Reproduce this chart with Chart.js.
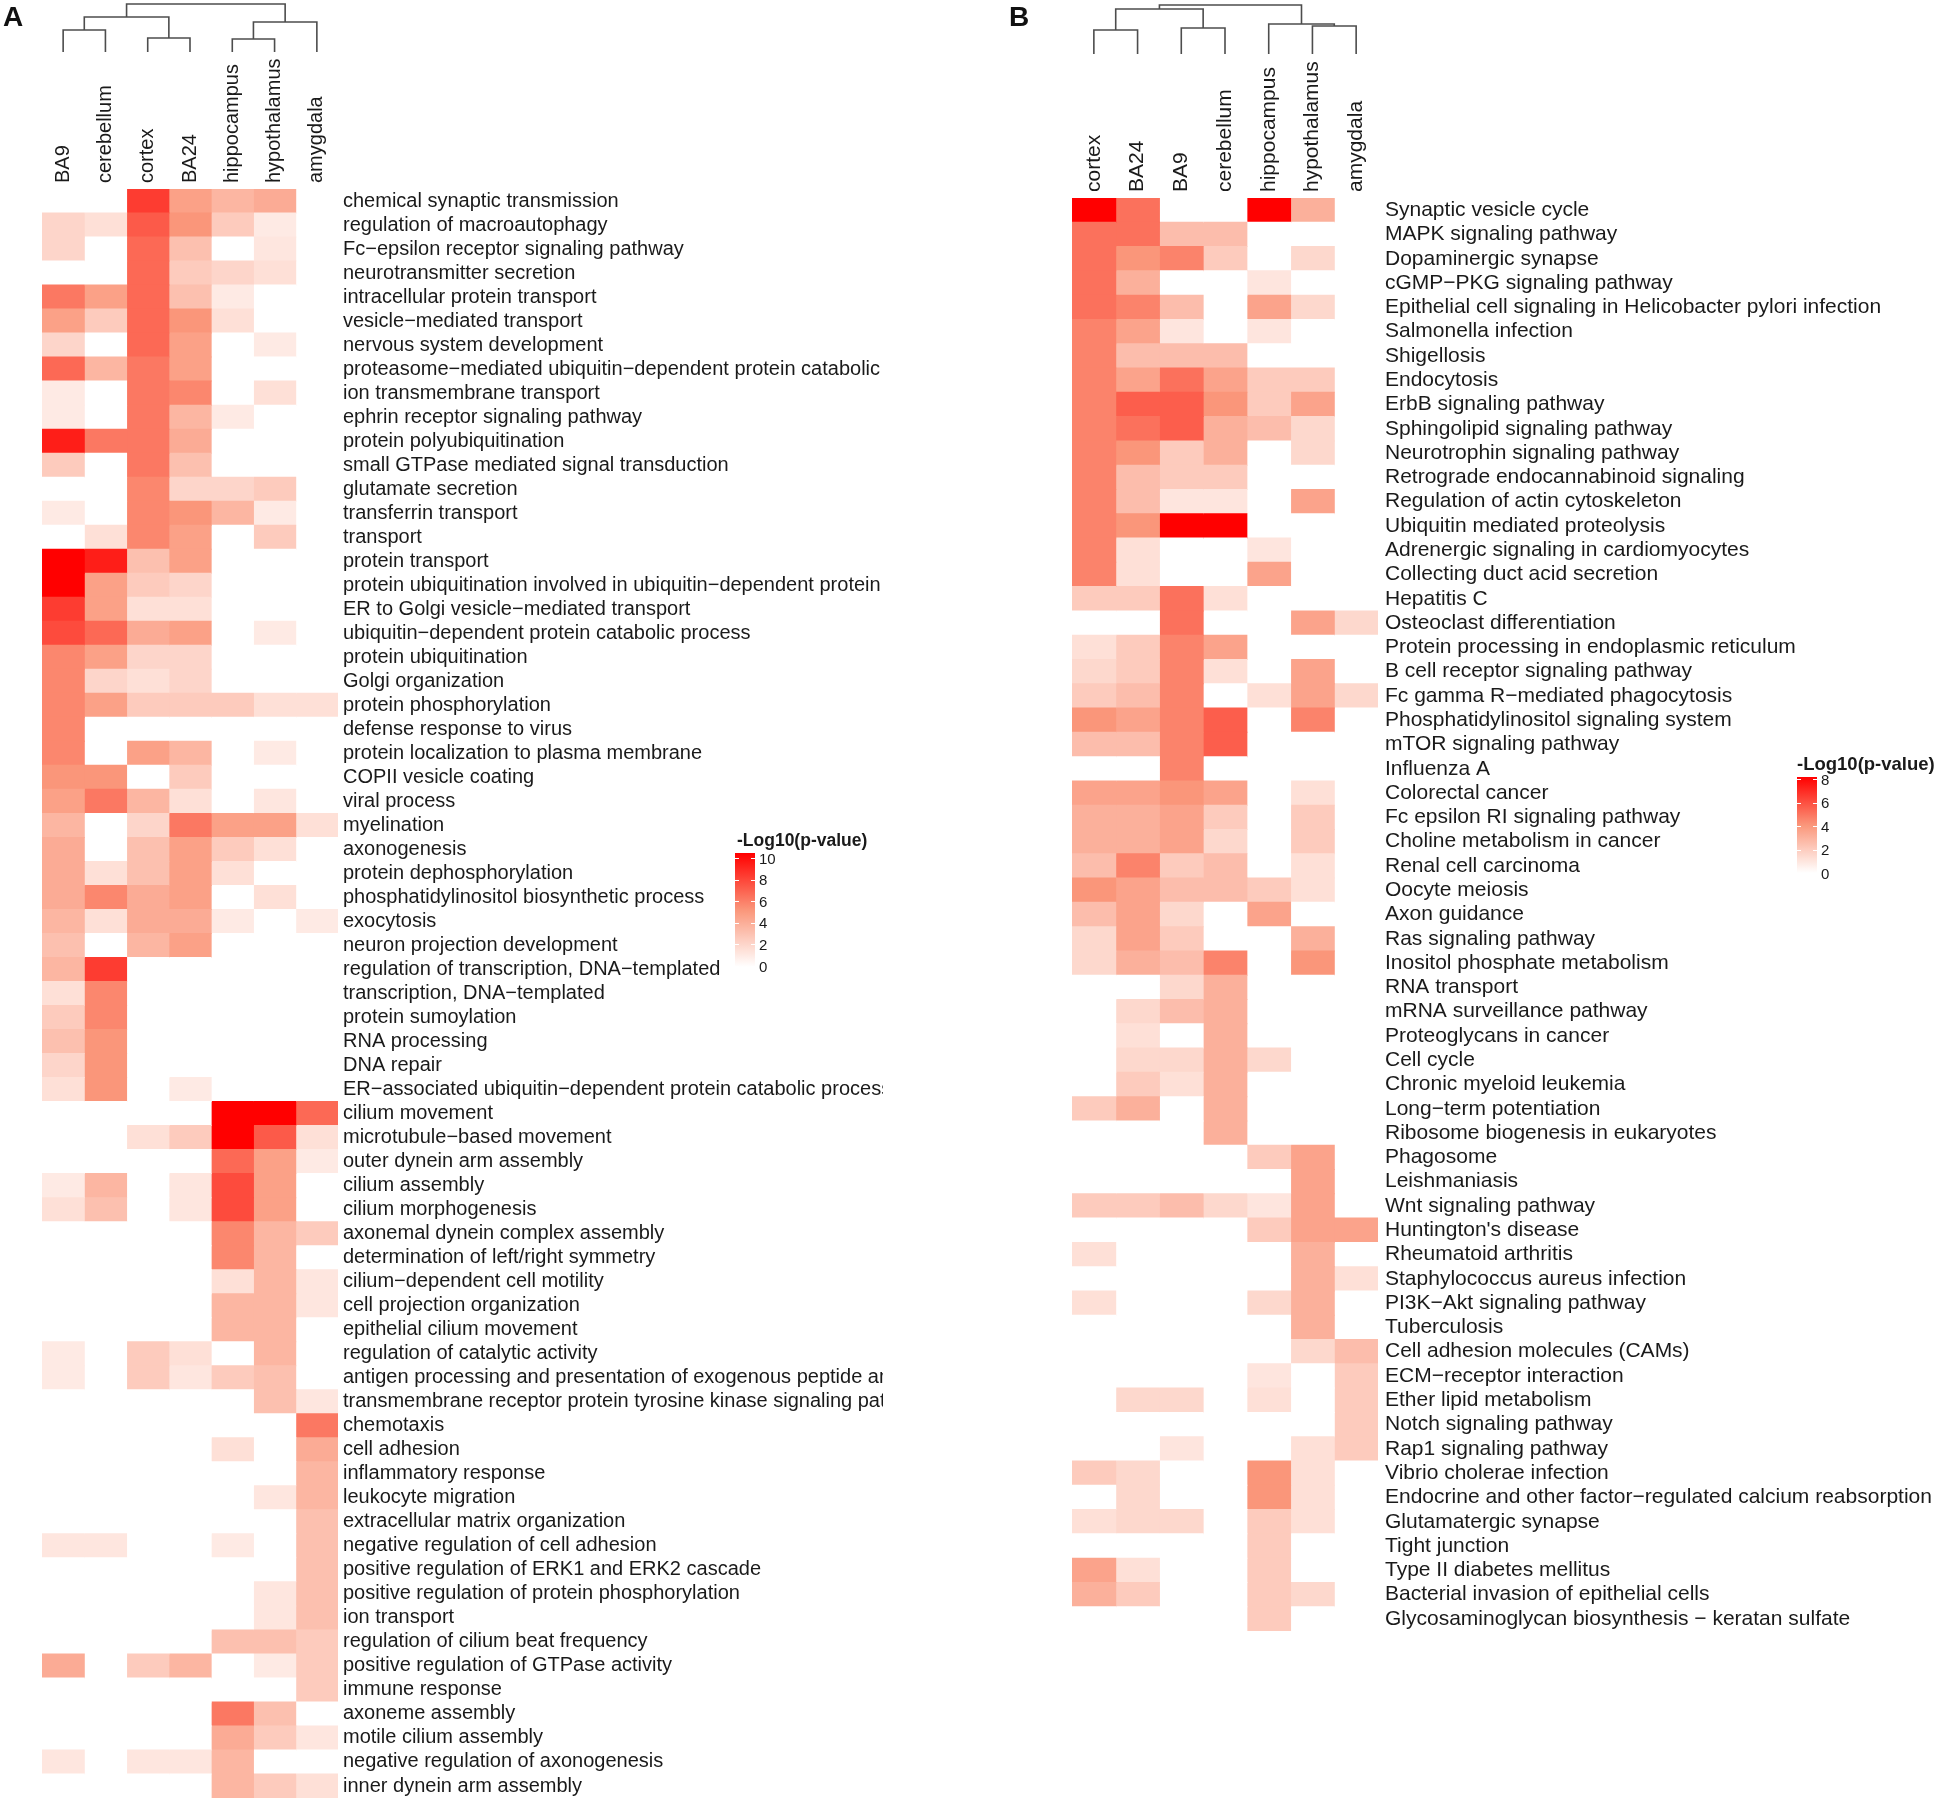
<!DOCTYPE html>
<html>
<head>
<meta charset="utf-8">
<script src="https://cdn.jsdelivr.net/npm/chart.js@4.4.1/dist/chart.umd.min.js"></script>
<style>
  body { margin: 0; background: #fff; }
  #page { position: relative; width: 1950px; height: 1803px; overflow: hidden;
          font-family: "Liberation Sans", Arial, Helvetica, sans-serif; color: #1a1a1a; }
  canvas { position: absolute; top: 0; }
  .panel { position: absolute; top: 3px; font-size: 28px; font-weight: bold; line-height: 1; color: #111; }
  .lg-title { position: absolute; font-weight: bold; line-height: 1; white-space: nowrap; }
  .lg-bar { position: absolute; }
  .lg-tick { position: absolute; font-size: 15px; line-height: 1; }
  .lg-mark { position: absolute; height: 1px; width: 4px; background: #fff; }
</style>
</head>
<body>
<div id="page">
  <canvas id="heatA" width="883" height="1803" style="left:0px;width:883px;height:1803px"></canvas>
  <canvas id="heatB" width="950" height="1803" style="left:1000px;width:950px;height:1803px"></canvas>
  <div class="panel" style="left:3px">A</div>
  <div class="panel" style="left:1009px">B</div>
</div>
<script>
const FONT = '"Liberation Sans", Arial, Helvetica, sans-serif';
const TEXT = '#1a1a1a';

// ---- panel A : GO terms ----
const tissuesA = ['BA9', 'cerebellum', 'cortex', 'BA24', 'hippocampus', 'hypothalamus', 'amygdala'];
const termsA = [
  'chemical synaptic transmission', 'regulation of macroautophagy', 'Fc−epsilon receptor signaling pathway',
  'neurotransmitter secretion', 'intracellular protein transport', 'vesicle−mediated transport',
  'nervous system development', 'proteasome−mediated ubiquitin−dependent protein catabolic process',
  'ion transmembrane transport', 'ephrin receptor signaling pathway', 'protein polyubiquitination',
  'small GTPase mediated signal transduction', 'glutamate secretion', 'transferrin transport', 'transport',
  'protein transport', 'protein ubiquitination involved in ubiquitin−dependent protein catabolic process',
  'ER to Golgi vesicle−mediated transport', 'ubiquitin−dependent protein catabolic process',
  'protein ubiquitination', 'Golgi organization', 'protein phosphorylation', 'defense response to virus',
  'protein localization to plasma membrane', 'COPII vesicle coating', 'viral process', 'myelination',
  'axonogenesis', 'protein dephosphorylation', 'phosphatidylinositol biosynthetic process', 'exocytosis',
  'neuron projection development', 'regulation of transcription, DNA−templated', 'transcription, DNA−templated',
  'protein sumoylation', 'RNA processing', 'DNA repair', 'ER−associated ubiquitin−dependent protein catabolic process',
  'cilium movement', 'microtubule−based movement', 'outer dynein arm assembly', 'cilium assembly',
  'cilium morphogenesis', 'axonemal dynein complex assembly', 'determination of left/right symmetry',
  'cilium−dependent cell motility', 'cell projection organization', 'epithelial cilium movement',
  'regulation of catalytic activity', 'antigen processing and presentation of exogenous peptide antigen via MHC class II',
  'transmembrane receptor protein tyrosine kinase signaling pathway', 'chemotaxis', 'cell adhesion',
  'inflammatory response', 'leukocyte migration', 'extracellular matrix organization',
  'negative regulation of cell adhesion', 'positive regulation of ERK1 and ERK2 cascade',
  'positive regulation of protein phosphorylation', 'ion transport', 'regulation of cilium beat frequency',
  'positive regulation of GTPase activity', 'immune response', 'axoneme assembly', 'motile cilium assembly',
  'negative regulation of axonogenesis', 'inner dynein arm assembly'
];
// -log10(p) per tissue, one value per term (top to bottom)
const a_BA9 = [0,2,2,0,6,4.5,2,6.5,1,1, 9,2.5,0,1,0,10,10,8,7.5,5.5, 5.5,5.5,5.5,5.5,5,4.5,3.5,4,4,4,
  3.5,3,3.5,1.5,2.5,3,2,1.5,0,0, 0,1,1.5,0,0,0,0,0,1,1, 0,0,0,0,0,0,1.2,0,0,0, 0,4,0,0,0,1.2,0];
const a_cerebellum = [0,1.5,0,0,4.5,2.5,0,3.5,0,0, 6,0,0,0,1.5,9,4.5,4.5,6.5,4.5, 2,4.5,0,0,5,6,0,0,1.5,5.5,
  1.5,0,8,5.5,5.5,5,5,5,0,0, 0,3.5,3,0,0,0,0,0,0,0, 0,0,0,0,0,0,1.2,0,0,0, 0,0,0,0,0,0,0];
const a_cortex = [8,7,6.5,6.5,6.5,6.5,6.5,6,6,6, 6,6,5.5,5.5,5.5,3,2.5,1.5,4,2, 1.5,2.5,0,4.5,0,3.5,2,3,3,4,
  4,3.5,0,0,0,0,0,0,0,1.5, 0,0,0,0,0,0,0,0,2.5,2.5, 0,0,0,0,0,0,0,0,0,0, 0,2.5,0,0,0,1.2,0];
const a_BA24 = [4.5,5,3,2.5,3,5,4.5,4.5,5.5,3.5, 4,3,2,5,4.5,4.5,2,1.5,4.5,2, 2,2.5,0,3.5,2.5,1.5,6,4.5,4.5,4.5,
  4,4.5,0,0,0,0,0,1,0,2.5, 0,1.2,1.2,0,0,0,0,0,1.5,1.2, 0,0,0,0,0,0,0,0,0,0, 0,3.5,0,0,0,1.2,0];
const a_hippocampus = [3.5,2.5,0,2,1,1.5,0,0,0,1, 0,0,2,3.5,0,0,0,0,0,0, 0,2.5,0,0,0,0,4.5,2.5,1.5,0,
  1,0,0,0,0,0,0,0,10,10, 6.5,7.5,7.5,5.5,5.5,1.5,3.5,3.5,0,2.5, 0,0,1.5,0,0,0,1,0,0,0, 3,0,0,6,4,3.5,3.5];
const a_hypothalamus = [4,1,1.2,1.5,0,0,1,0,1.5,0, 0,0,2.5,1,2.5,0,0,0,1,0, 0,1.5,0,1,0,1.2,4.5,1.5,0,1.5,
  0,0,0,0,0,0,0,0,10,7, 4.5,4.5,4.5,3.5,3.5,3.5,3.5,3.5,3.5,3, 3,0,0,0,1.2,0,0,0,1.2,1.2, 3,1,0,3,2.5,0,2.5];
const a_amygdala = [0,0,0,0,0,0,0,0,0,0, 0,0,0,0,0,0,0,0,0,0, 0,1.5,0,0,0,0,1.5,0,0,0,
  1,0,0,0,0,0,0,0,6.5,1.5, 1,0,0,2.5,0,1.2,1.2,0,0,0, 1.2,6,4,3.5,3.5,3,3,3,3,3, 2.5,2.5,2.5,0,1.2,0,1.5];
const seriesA = [a_BA9, a_cerebellum, a_cortex, a_BA24, a_hippocampus, a_hypothalamus, a_amygdala];
const legendTicksA = [0, 2, 4, 6, 8, 10];
// column dendrogram, hclust style: negative = leaf, positive = earlier merge
const mergesA = [[-1, -2], [-3, -4], [-5, -6], [3, -7], [1, 2], [5, 4]];
const heightsA = [0.458, 0.292, 0.271, 0.625, 0.729, 1];

// ---- panel B : KEGG pathways ----
const tissuesB = ['cortex', 'BA24', 'BA9', 'cerebellum', 'hippocampus', 'hypothalamus', 'amygdala'];
const termsB = [
  'Synaptic vesicle cycle', 'MAPK signaling pathway', 'Dopaminergic synapse', 'cGMP−PKG signaling pathway',
  'Epithelial cell signaling in Helicobacter pylori infection', 'Salmonella infection', 'Shigellosis',
  'Endocytosis', 'ErbB signaling pathway', 'Sphingolipid signaling pathway', 'Neurotrophin signaling pathway',
  'Retrograde endocannabinoid signaling', 'Regulation of actin cytoskeleton', 'Ubiquitin mediated proteolysis',
  'Adrenergic signaling in cardiomyocytes', 'Collecting duct acid secretion', 'Hepatitis C',
  'Osteoclast differentiation', 'Protein processing in endoplasmic reticulum', 'B cell receptor signaling pathway',
  'Fc gamma R−mediated phagocytosis', 'Phosphatidylinositol signaling system', 'mTOR signaling pathway',
  'Influenza A', 'Colorectal cancer', 'Fc epsilon RI signaling pathway', 'Choline metabolism in cancer',
  'Renal cell carcinoma', 'Oocyte meiosis', 'Axon guidance', 'Ras signaling pathway',
  'Inositol phosphate metabolism', 'RNA transport', 'mRNA surveillance pathway', 'Proteoglycans in cancer',
  'Cell cycle', 'Chronic myeloid leukemia', 'Long−term potentiation', 'Ribosome biogenesis in eukaryotes',
  'Phagosome', 'Leishmaniasis', 'Wnt signaling pathway', "Huntington's disease", 'Rheumatoid arthritis',
  'Staphylococcus aureus infection', 'PI3K−Akt signaling pathway', 'Tuberculosis',
  'Cell adhesion molecules (CAMs)', 'ECM−receptor interaction', 'Ether lipid metabolism',
  'Notch signaling pathway', 'Rap1 signaling pathway', 'Vibrio cholerae infection',
  'Endocrine and other factor−regulated calcium reabsorption', 'Glutamatergic synapse', 'Tight junction',
  'Type II diabetes mellitus', 'Bacterial invasion of epithelial cells',
  'Glycosaminoglycan biosynthesis − keratan sulfate'
];
const b_cortex = [8,5,5,5,5,4.5,4.5,4.5,4.5,4.5, 4.5,4.5,4.5,4.5,4.5,4.5,2,0,1.2,1.5, 2,4,2.5,0,3.5,3,3,2.5,4,2.5,
  1.5,1.5,0,0,0,0,0,2,0,0, 0,2,0,1.2,0,1.2,0,0,0,0, 0,0,2,0,1.2,0,3.5,3,0];
const b_BA24 = [5,5,4,3,4.5,3.5,2.5,3.5,5.5,5, 4,2.5,2.5,4,1.2,1.2,2,0,2,2, 2.5,3.5,2.5,0,3.5,3,3,4.5,3.5,3.5,
  3.5,3,0,1.5,1.2,1.5,2,3,0,0, 0,2,0,0,0,0,0,0,0,1.5, 0,0,1.5,1.5,1.5,0,1.2,2,0];
const b_BA9 = [0,2.5,4.5,0,2.5,1,2.5,5,5.5,5.5, 2,2,1,8,0,0,5,5,4.5,4.5, 4.5,4.5,4.5,4.5,4,3.5,3.5,2,2.5,1.5,
  2,2.5,1.5,2.5,0,1.5,1.2,0,0,0, 0,2.5,0,0,0,0,0,0,0,1.5, 0,1,0,0,1.5,0,0,0,0];
const b_cerebellum = [0,2.5,2,0,0,0,2.5,3.5,4,3, 3,2,1,8,0,0,1.2,0,3.5,1.2, 0,5.5,5.5,0,3.5,2,1.5,2.5,2.5,0,
  0,4.5,3,3,3,3,3,3,3,0, 0,1.5,0,0,0,0,0,0,0,0, 0,0,0,0,0,0,0,0,0];
const b_hippocampus = [8,0,0,1,3.5,1,0,2,2,2.5, 0,0,0,0,1,3.5,0,0,0,0, 1.2,0,0,0,0,0,0,0,2,3.5,
  0,0,0,0,0,1.5,0,0,0,2, 0,1,2,0,0,1.5,0,0,1,1.2, 0,0,4,4,2,2,2,2,2];
const b_hypothalamus = [3,0,1.5,0,1.5,0,0,2,3.5,1.5, 1.5,0,3.5,0,0,0,0,3.5,0,3.5, 3.5,4.5,0,0,1.2,2,2,1.2,1.2,0,
  3,4,0,0,0,0,0,0,0,3.5, 3.5,3.5,3.5,3,3,3,3,1.5,0,0, 0,1.2,1.2,1.2,1.2,0,0,1.5,0];
const b_amygdala = [0,0,0,0,0,0,0,0,0,0, 0,0,0,0,0,0,0,1.5,0,0, 1.5,0,0,0,0,0,0,0,0,0,
  0,0,0,0,0,0,0,0,0,0, 0,0,3.5,0,1.2,0,0,2.5,2,2, 2,2,0,0,0,0,0,0,0];
const seriesB = [b_cortex, b_BA24, b_BA9, b_cerebellum, b_hippocampus, b_hypothalamus, b_amygdala];
const legendTicksB = [0, 2, 4, 6, 8];
const mergesB = [[-1, -2], [-3, -4], [1, 2], [-6, -7], [-5, 4], [3, 5]];
const heightsB = [0.49, 0.53, 0.918, 0.571, 0.612, 1];

// white -> salmon -> red
function heatColor(v, max) {
  const t = Math.max(0, Math.min(1, v / max));
  const stops = [[255, 255, 255], [250, 150, 122], [255, 0, 0]];
  const s = t < 0.5 ? 0 : 1;
  const f = t < 0.5 ? t * 2 : (t - 0.5) * 2;
  const a = stops[s], b = stops[s + 1];
  const c = a.map((x, k) => Math.round(x + (b[k] - x) * f));
  return `rgb(${c[0]},${c[1]},${c[2]})`;
}

function dendrogramPlugin(p) {
  return {
    id: 'dendrogram',
    afterDraw(chart) {
      const xs = chart.scales.x;
      const ctx = chart.ctx;
      const yOf = h => p.dendro.bottom - h * (p.dendro.bottom - p.dendro.top);
      const nodes = [];
      const pos = ref => ref < 0
        ? { x: xs.getPixelForValue(-ref - 1 + 0.5), y: p.dendro.bottom }
        : nodes[ref - 1];
      ctx.save();
      ctx.strokeStyle = '#4d4d4d';
      ctx.lineWidth = 1.6;
      ctx.beginPath();
      p.dendro.merges.forEach((m, k) => {
        const a = pos(m[0]), b = pos(m[1]);
        const y = yOf(p.dendro.heights[k]);
        ctx.moveTo(a.x, a.y);
        ctx.lineTo(a.x, y);
        ctx.lineTo(b.x, y);
        ctx.lineTo(b.x, b.y);
        nodes.push({ x: (a.x + b.x) / 2, y });
      });
      ctx.stroke();
      ctx.restore();
    }
  };
}

function makeHeatmap(canvas, p) {
  const datasets = p.tissues.map((t, j) => ({
    label: t,
    data: p.terms.map(() => [j, j + 1]),
    backgroundColor: p.series[j].map(v => heatColor(v, p.max)),
    borderWidth: 0,
    inflateAmount: 0.5,
    barPercentage: 1,
    categoryPercentage: 1,
    grouped: false
  }));

  return new Chart(canvas, {
    type: 'bar',
    data: { labels: p.terms, datasets },
    options: {
      indexAxis: 'y',
      responsive: false,
      animation: false,
      events: [],
      layout: { padding: { left: p.area.left, top: 0, right: 0, bottom: p.height - p.area.bottom } },
      plugins: { legend: { display: false }, tooltip: { enabled: false } },
      scales: {
        x: {
          type: 'linear',
          position: 'top',
          min: 0,
          max: p.tissues.length,
          grid: { display: false, drawTicks: false },
          border: { display: false },
          afterBuildTicks: s => { s.ticks = p.tissues.map((t, i) => ({ value: i + 0.5 })); },
          ticks: {
            autoSkip: false, minRotation: 90, maxRotation: 90, padding: 6, labelOffset: p.fontSize * 1.2,
            color: TEXT, font: { family: FONT, size: p.fontSize },
            callback: (v, i) => p.tissues[i]
          },
          afterFit: s => { s.height = p.area.top; s.paddingLeft = 0; s.paddingRight = 0; }
        },
        y: {
          type: 'category',
          position: 'right',
          offset: true,
          grid: { display: false, drawTicks: false },
          border: { display: false },
          ticks: { autoSkip: false, padding: p.labelGap, color: TEXT, font: { family: FONT, size: p.fontSize } },
          afterFit: s => { s.width = p.width - p.area.right; s.paddingTop = 0; s.paddingBottom = 0; }
        }
      }
    },
    plugins: [dendrogramPlugin(p)]
  });
}

function drawLegend(g) {
  const page = document.getElementById('page');
  const title = document.createElement('div');
  title.className = 'lg-title';
  title.textContent = '-Log10(p-value)';
  title.style.left = g.titleLeft + 'px';
  title.style.top = g.titleTop + 'px';
  title.style.fontSize = g.titleSize + 'px';
  page.appendChild(title);

  const stops = [];
  for (let k = 0; k <= 20; k++) stops.push(`${heatColor(k / 20 * g.max, g.max)} ${k * 5}%`);
  const bar = document.createElement('div');
  bar.className = 'lg-bar';
  Object.assign(bar.style, {
    left: g.barLeft + 'px', top: g.barTop + 'px', width: g.barWidth + 'px', height: g.barHeight + 'px',
    background: `linear-gradient(to top, ${stops.join(', ')})`
  });
  page.appendChild(bar);

  g.ticks.forEach(v => {
    const y = g.zeroY - v / g.max * (g.zeroY - g.maxY);
    const lab = document.createElement('div');
    lab.className = 'lg-tick';
    lab.textContent = v;
    lab.style.left = g.labelLeft + 'px';
    lab.style.top = (y - 7.4) + 'px';
    page.appendChild(lab);
    [g.barLeft, g.barLeft + g.barWidth - 4].forEach(x => {
      const m = document.createElement('div');
      m.className = 'lg-mark';
      m.style.left = x + 'px';
      m.style.top = Math.round(y) + 'px';
      page.appendChild(m);
    });
  });
}

makeHeatmap(document.getElementById('heatA'), {
  tissues: tissuesA, terms: termsA, series: seriesA, max: 10,
  width: 883, height: 1803, labelGap: 5, fontSize: 20,
  area: { left: 42, right: 338, top: 189, bottom: 1798 },
  dendro: { merges: mergesA, heights: heightsA, top: 4, bottom: 52 }
});

makeHeatmap(document.getElementById('heatB'), {
  tissues: tissuesB, terms: termsB, series: seriesB, max: 8,
  width: 950, height: 1803, labelGap: 7, fontSize: 21,
  area: { left: 72, right: 378, top: 198, bottom: 1631 },
  dendro: { merges: mergesB, heights: heightsB, top: 5, bottom: 54 }
});

drawLegend({ max: 10, ticks: legendTicksA, titleLeft: 737, titleTop: 832, titleSize: 17.5,
  barLeft: 735, barTop: 853, barWidth: 20, barHeight: 114, zeroY: 966, maxY: 858, labelLeft: 759 });
drawLegend({ max: 8, ticks: legendTicksB, titleLeft: 1797, titleTop: 755, titleSize: 18.5,
  barLeft: 1797, barTop: 777, barWidth: 20, barHeight: 96, zeroY: 873, maxY: 779, labelLeft: 1821 });
</script>
</body>
</html>
